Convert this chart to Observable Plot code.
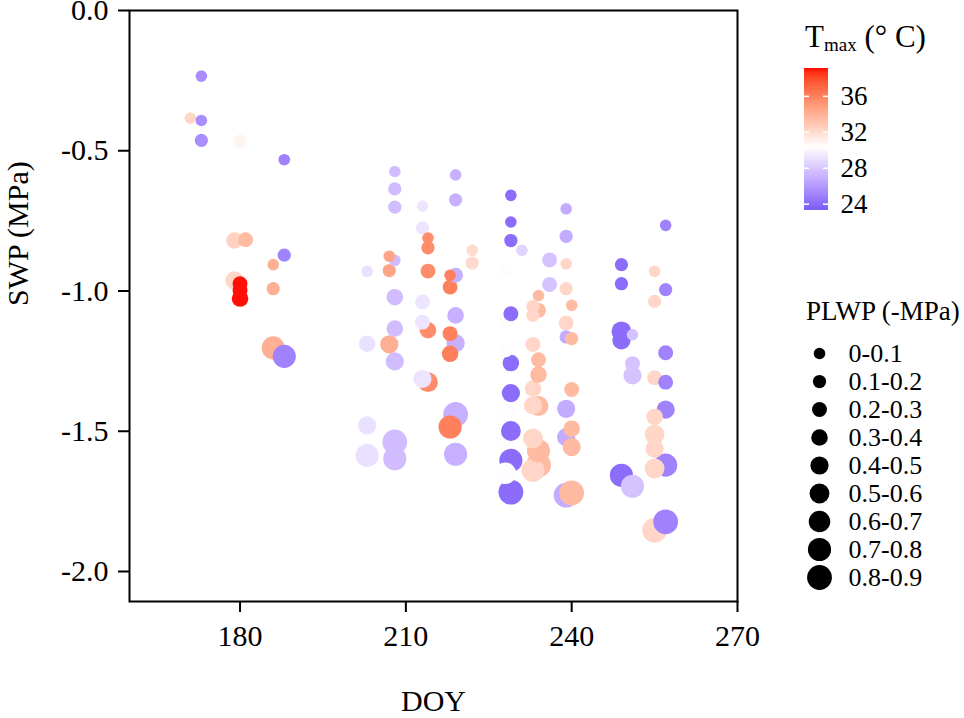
<!DOCTYPE html>
<html><head><meta charset="utf-8">
<script src="https://cdn.jsdelivr.net/npm/d3@7"></script>
<script src="https://cdn.jsdelivr.net/npm/@observablehq/plot@0.6"></script>
<style>
body{margin:0;background:#fff;font-family:"Liberation Serif","Times New Roman",serif;color:#000;}
#wrap{position:relative;width:964px;height:718px;overflow:hidden;}
#wrap > *{position:absolute;}
svg text{font-family:"Liberation Serif","Times New Roman",serif !important;}
.ttl{font-family:"Liberation Serif","Times New Roman",serif;white-space:nowrap;line-height:1;}
</style></head><body><div id="wrap"></div>
<script>
// ---- data ----
const doy = [171,172,172,173,173,173,179,179,180,180,180,180,181,186,186,186,188,188,188,
  203,203,203,203,
  208,208,208,208,208,208,208,208,208,
  207,207,207,
  213,213,213,213,213,
  214,214,214,214,214,
  218,218,218,218,218,
  219,219,219,219,219,219,219,
  222,222,
  228,228,228,228,228,228,
  229,229,229,229,229,229,229,229,229,
  231,
  233,233,233,233,233,233,233,
  234,234,234,234,234,234,234,
  236,236,
  239,239,239,239,239,239,239,239,239,
  240,240,240,240,240,240,
  249,249,249,249,249,
  251,251,251,251,
  255,255,255,255,255,255,255,255,
  257,257,257,257,257,257,257];
const swp = [-0.384,-0.659,-0.701,-0.234,-0.392,-0.463,-0.820,-0.962,-0.466,-0.974,-0.998,-1.027,-0.817,-0.906,-0.992,-1.203,-0.532,-0.872,-1.233,
  -0.930,-1.188,-1.479,-1.586,
  -0.574,-0.636,-0.701,-0.891,-1.022,-1.134,-1.251,-1.538,-1.598,
  -0.876,-0.927,-1.190,
  -0.697,-0.775,-1.039,-1.111,-1.313,
  -0.811,-0.846,-0.929,-1.140,-1.325,
  -0.944,-0.986,-1.152,-1.224,-1.485,
  -0.586,-0.675,-0.944,-1.087,-1.186,-1.440,-1.582,
  -0.855,-0.900,
  -0.924,-1.105,-1.210,-1.430,-1.530,-1.650,
  -0.659,-0.754,-0.820,-1.081,-1.257,-1.364,-1.499,-1.604,-1.717,
  -0.855,
  -1.055,-1.087,-1.191,-1.348,-1.408,-1.526,-1.639,
  -1.016,-1.069,-1.245,-1.298,-1.410,-1.570,-1.620,
  -0.889,-0.977,
  -0.707,-0.805,-0.903,-0.992,-1.114,-1.164,-1.420,-1.521,-1.728,
  -1.051,-1.170,-1.351,-1.491,-1.556,-1.720,
  -0.906,-0.974,-1.144,-1.176,-1.657,
  -1.156,-1.259,-1.301,-1.696,
  -0.930,-1.037,-1.309,-1.449,-1.512,-1.562,-1.633,-1.853,
  -0.766,-0.995,-1.220,-1.325,-1.423,-1.621,-1.823];
const plwp = [0.05,0.05,0.05,0.05,0.05,0.15,0.35,0.45,0.15,0.25,0.25,0.35,0.25,0.05,0.15,0.75,0.05,0.15,0.75,
  0.05,0.35,0.45,0.75,
  0.05,0.15,0.15,0.05,0.35,0.35,0.45,0.85,0.75,
  0.05,0.15,0.45,
  0.05,0.15,0.25,0.25,0.45,
  0.05,0.15,0.25,0.35,0.55,
  0.05,0.25,0.25,0.35,0.75,
  0.05,0.15,0.25,0.35,0.45,0.85,0.75,
  0.05,0.15,
  0.15,0.25,0.25,0.45,0.55,0.65,
  0.05,0.05,0.15,0.25,0.35,0.45,0.55,0.75,0.85,
  0.05,
  0.15,0.15,0.25,0.35,0.45,0.55,0.75,
  0.05,0.25,0.25,0.35,0.55,0.75,0.85,
  0.25,0.25,
  0.05,0.15,0.05,0.15,0.25,0.15,0.45,0.45,0.85,
  0.05,0.15,0.25,0.35,0.45,0.85,
  0.15,0.15,0.55,0.45,0.75,
  0.05,0.25,0.45,0.75,
  0.05,0.15,0.25,0.35,0.55,0.45,0.55,0.85,
  0.05,0.15,0.25,0.25,0.45,0.75,0.85];
const tmax = [32.2,30.3,30.3,25.5,25.5,25.5,32.4,32.2,30.8,39,39,39,33.5,34,34,34,25,25,25,
  29,29,29,29,
  27.5,27.5,27.5,27.5,27.5,27.5,27.5,27.5,27.5,
  34.5,34.5,34,
  29.2,29.2,29.2,29.2,29.2,
  35.5,35.5,35.5,35.5,35.5,
  36,36,36,36,36,
  27,27,27,27,27,27,27,
  32,32,
  30.2,30.2,30.2,30.2,30.2,30.2,
  24,24,24,24,24,24,24,24,24,
  28.5,
  32.2,32.2,32.2,32.2,32.2,32.2,32.2,
  33.5,33.5,33.5,33.5,33.5,33.5,33.5,
  27.8,27.8,
  26.8,26.8,32.2,32.2,32.2,26.8,26.8,26.8,26.8,
  33.5,33.5,33.5,33.5,33.5,33.5,
  24,24,24,24,24,
  27.8,27.8,27.8,27.8,
  32.2,32.2,32.2,32.2,32.2,32.2,32.2,32.2,
  25,25,25,25,25,25,25];

const xTicks = [180, 210, 240, 270];
const yTicks = [0, -0.5, -1.0, -1.5, -2.0];
const tTicks = [24, 28, 32, 36];
const sizeLabels = ["0-0.1","0.1-0.2","0.2-0.3","0.3-0.4","0.4-0.5","0.5-0.6","0.6-0.7","0.7-0.8","0.8-0.9"];
const sizeMids = [0.05,0.15,0.25,0.35,0.45,0.55,0.65,0.75,0.85];

// ---- shared scales ----
const colorScale = {type: "linear", domain: [23.3, 30.3, 39.1], range: ["#7a5cfa", "#ffffff", "#ff0000"], interpolate: "lab"};
const rScale = {type: "linear", domain: [0.05, 0.85], range: [5.8, 12.4]};
const font = "Liberation Serif, Times New Roman, serif";

const points = doy.map((d, i) => ({doy: d, swp: swp[i], plwp: plwp[i], tmax: tmax[i]}));
const wrap = document.getElementById("wrap");

// ---- main chart ----
const main = Plot.plot({
  width: 964, height: 718,
  marginLeft: 129, marginRight: 227, marginTop: 10, marginBottom: 117,
  style: {fontFamily: font, fontSize: "29px", color: "#000", background: "transparent"},
  x: {domain: [160, 270]},
  y: {domain: [-2.107, 0]},
  color: colorScale,
  r: rScale,
  marks: [
    Plot.dot(points, {x: "doy", y: "swp", r: "plwp", fill: "tmax"}),
    Plot.frame({stroke: "#000", strokeWidth: 2}),
    Plot.axisX({ticks: xTicks, tickSize: 11, tickPadding: 12, fontSize: 30, strokeWidth: 2, label: null}),
    Plot.axisY({ticks: yTicks, tickSize: 11, tickPadding: 10, fontSize: 30, strokeWidth: 2, label: null, tickFormat: d => d.toFixed(1)}),
    Plot.text(["DOY"], {frameAnchor: "bottom", text: d => d, dy: 100, lineAnchor: "middle", fontSize: 30}),
    Plot.text(["SWP (MPa)"], {frameAnchor: "left", text: d => d, dx: -111, rotate: -90, lineAnchor: "middle", fontSize: 30})
  ]
});
main.style.left = "0px"; main.style.top = "0px";
wrap.appendChild(main);

// ---- colour bar legend ----
const step = 0.1;
const bins = d3.range(colorScale.domain[0], colorScale.domain[2], step).map(v => ({a: v, b: Math.min(v + step * 1.6, colorScale.domain[2]), v: v + step / 2}));
const cbar = Plot.plot({
  width: 194, height: 230,
  marginLeft: 34, marginRight: 136, marginTop: 68, marginBottom: 20,
  style: {fontFamily: font, color: "#000", background: "transparent"},
  y: {domain: [colorScale.domain[0], colorScale.domain[2]]},
  color: colorScale,
  marks: [
    Plot.rect(bins, {y1: "a", y2: "b", fill: "v", shapeRendering: "crispEdges"}),
    Plot.tickY(tTicks, {y: d => d, stroke: "#fff", strokeWidth: 1.5, insetRight: 19}),
    Plot.tickY(tTicks, {y: d => d, stroke: "#fff", strokeWidth: 1.5, insetLeft: 19}),
    Plot.axisY({anchor: "right", ticks: tTicks, tickSize: 0, tickPadding: 12, fontSize: 27, label: null})
  ]
});
cbar.style.left = "770px"; cbar.style.top = "0px";
wrap.appendChild(cbar);

const t1 = document.createElement("div");
t1.className = "ttl";
t1.innerHTML = 'T<span style="font-size:19px;position:relative;top:4px;">max</span> (° C)';
t1.style.left = "805px"; t1.style.top = "21px"; t1.style.fontSize = "31px";
wrap.appendChild(t1);

// ---- size legend ----
const sizeData = sizeLabels.map((l, i) => ({label: l, mid: sizeMids[i]}));
const sleg = Plot.plot({
  width: 194, height: 270,
  marginLeft: 49, marginRight: 10, marginTop: 23, marginBottom: 23,
  style: {fontFamily: font, color: "#000", background: "transparent"},
  y: {type: "point", domain: sizeLabels, range: [23, 247], padding: 0, axis: null},
  r: rScale,
  marks: [
    Plot.dot(sizeData, {y: "label", r: "mid", fill: "#000", frameAnchor: "left"}),
    Plot.text(sizeData, {y: "label", text: "label", frameAnchor: "left", dx: 29, textAnchor: "start", fontSize: 26})
  ]
});
sleg.style.left = "770px"; sleg.style.top = "330px";
wrap.appendChild(sleg);

const t2 = document.createElement("div");
t2.className = "ttl";
t2.textContent = "PLWP (-MPa)";
t2.style.left = "806px"; t2.style.top = "298px"; t2.style.fontSize = "27px";
wrap.appendChild(t2);
</script>
</body></html>
